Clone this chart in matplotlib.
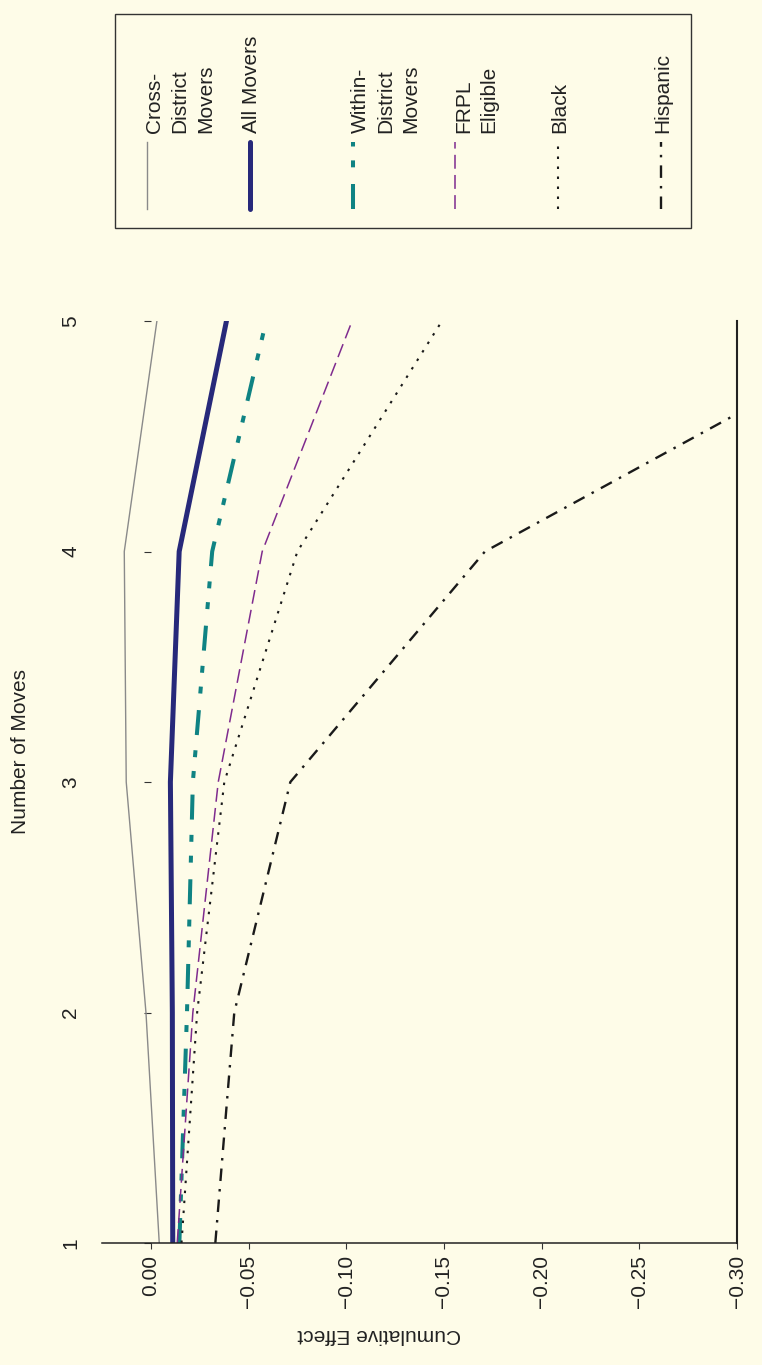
import matplotlib
matplotlib.use('Agg')
import matplotlib.pyplot as plt
from matplotlib.patches import Rectangle

plt.rcParams['font.family'] = ['Liberation Sans', 'DejaVu Sans']
plt.rcParams['lines.scale_dashes'] = False

# Cumulative effect by number of moves
moves = [1, 2, 3, 4, 5]
cross_district = [-0.0043, 0.0025, 0.0126, 0.0136, -0.0031]
all_movers = [-0.0112, -0.0110, -0.0100, -0.0145, -0.0387]
within_district = [-0.0146, -0.0185, -0.0215, -0.0314, -0.0590]
frpl_eligible = [-0.0135, -0.0215, -0.0345, -0.0570, -0.1030]
black = [-0.0157, -0.0237, -0.0376, -0.0750, -0.1490]
hispanic = [-0.0330, -0.0427, -0.0714, -0.1710, -0.3870]

series_labels = ["Cross-\nDistrict\nMovers", "All Movers", "Within-\nDistrict\nMovers",
                 "FRPL\nEligible", "Black", "Hispanic"]
series_values = [cross_district, all_movers, within_district, frpl_eligible, black, hispanic]

effect_ticks = [0.00, -0.05, -0.10, -0.15, -0.20, -0.25, -0.30]
move_ticks = [1, 2, 3, 4, 5]

BG = '#fefce8'
TXT = '#222222'

styles = [
    dict(color='#8a8a8a', lw=1.0, linestyle='-'),
    dict(color='#27297a', lw=3.6, linestyle='-', solid_capstyle='round'),
    dict(color='#0f8383', lw=2.9, linestyle=(0, (18, 12, 5, 10, 5, 11))),
    dict(color='#7f2b8e', lw=1.1, linestyle=(0, (10, 4.5))),
    dict(color='#1a1a1a', lw=1.5, linestyle=(0, (1.8, 5.4))),
    dict(color='#1a1a1a', lw=1.7, linestyle=(0, (9, 5.8, 1.8, 5.8))),
]

W, H = 762, 1365
fig = plt.figure(figsize=(W / 100, H / 100), dpi=100, facecolor=BG)

# chart is drawn turned on its side: effect runs across, moves run up
ax = fig.add_axes([102 / W, 122 / H, 635 / W, 922 / H], facecolor=BG)
for vals, st in zip(series_values, styles):
    ax.plot(vals, moves, **st)

ax.set_xlim(0.025, -0.30)
ax.set_ylim(1, 5)

ax.spines['top'].set_visible(False)
ax.spines['left'].set_position(('data', 0))
ax.spines['left'].set_visible(False)
ax.spines['bottom'].set_linewidth(1.1)
ax.spines['bottom'].set_color('#222222')
ax.spines['right'].set_linewidth(1.5)
ax.spines['right'].set_color('#222222')

ax.set_xticks(effect_ticks)
ax.set_xticklabels([f"{v:.2f}".replace('-', '\u2212') for v in effect_ticks])
ax.set_yticks(move_ticks)
ax.set_yticklabels([str(m) for m in move_ticks])
ax.tick_params(axis='x', direction='out', length=4.5, width=0.8, colors='#333333',
               labelsize=15, labelcolor=TXT, pad=4)
ax.tick_params(axis='y', direction='out', length=5, width=0.8, colors='#333333',
               labelsize=15, labelcolor=TXT, pad=46)
plt.setp(ax.get_xticklabels(), rotation=90, ha='center', va='top')
plt.setp(ax.get_yticklabels(), rotation=90, ha='right', va='center')

ax.text(0.436, -0.0995, "Cumulative Effect", transform=ax.transAxes, rotation=180,
        ha='center', va='center', fontsize=15, color=TXT)
ax.text(-0.129, 0.533, "Number of Moves", transform=ax.transAxes, rotation=90,
        ha='center', va='center', fontsize=15, color=TXT)

# legend box, laid out in pixel space
lax = fig.add_axes([0, 0, 1, 1], facecolor='none')
lax.set_xlim(0, W)
lax.set_ylim(H, 0)
lax.axis('off')
lax.add_patch(Rectangle((115, 14), 576, 214, facecolor=BG, edgecolor='#333333', lw=1.0))
line_px = 25
for i, (lab, st) in enumerate(zip(series_labels, styles)):
    lx = 147 + i * 102.8
    lax.plot([lx, lx], [209, 142], **st)
    n = lab.count('\n')
    # baseline anchors the last line, so shift right by the extra lines
    lax.text(lx + 7.5 + n * line_px, 133, lab, rotation=90, rotation_mode='anchor',
             ha='left', va='baseline', fontsize=15, color=TXT, linespacing=1.42)

fig.savefig('out.png', dpi=100, facecolor=BG)
